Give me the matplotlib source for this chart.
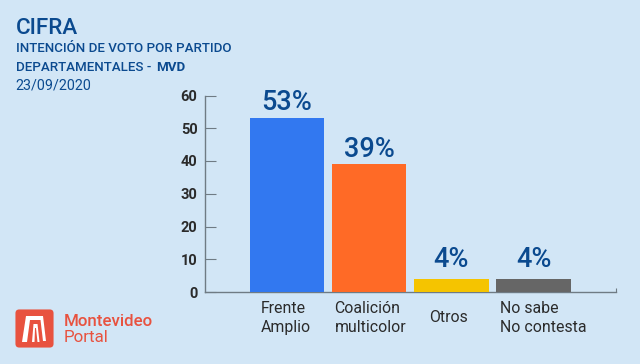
import matplotlib.pyplot as plt
from matplotlib.patches import FancyBboxPatch, Polygon

categories = ['Frente\nAmplio', 'Coalición\nmulticolor', 'Otros', 'No sabe\nNo contesta']
values = [53, 39, 4, 4]
value_labels = ['53%', '39%', '4%', '4%']
y_ticks = [0, 10, 20, 30, 40, 50, 60]

BG = '#d2e6f6'
BLUE = '#0b4a8f'
DARK = '#2b2b2b'
AXIS = '#6f7b84'
RED = '#e8523f'
bar_colors = ['#3278f0', '#ff6a26', '#f5c400', '#666666']
label_left_px = [260.5, 334.5, 429, 500]
label_gaps = [0.7, 0.4, 1.8, 1.8]

plt.rcParams['font.family'] = ['Roboto', 'DejaVu Sans']

W, H = 640, 364
fig = plt.figure(figsize=(6.4, 3.64), dpi=100, facecolor=BG)


def px(x, y):
    return x / W, 1 - y / H


ax = fig.add_axes([204.5 / W, 1 - 292 / H, (616 - 204.5) / W, (292 - 95.5) / H])
ax.set_facecolor('none')
ax.bar(range(len(values)), values, width=0.905, color=bar_colors, zorder=3)
ax.set_xlim(-1, 4)
ax.set_ylim(0, 60)

for spine in ['top', 'right']:
    ax.spines[spine].set_visible(False)
for spine in ['left', 'bottom']:
    ax.spines[spine].set_color(AXIS)
    ax.spines[spine].set_linewidth(1.0)

ax.set_yticks(y_ticks)
ax.tick_params(axis='y', direction='in', length=8, width=0.8, color=AXIS, pad=5,
               labelsize=10.5, labelcolor=DARK)
for t in ax.get_yticklabels():
    t.set_fontweight('bold')
ax.set_xticks([4])
ax.set_xticklabels([''])
ax.tick_params(axis='x', direction='in', length=3, width=0.8, color=AXIS)

for i, v in enumerate(values):
    ax.text(i, v + label_gaps[i], value_labels[i], ha='center', va='bottom', fontsize=19.5,
            color=BLUE, zorder=4, fontweight='medium')

for cat, left in zip(categories, label_left_px):
    x, _ = px(left, 0)
    y = 1 - 318 / H
    fig.text(x, y, cat, ha='left', va='center', fontsize=11.4, color=DARK, linespacing=1.3)

fig.text(*px(15.5, 28), 'CIFRA', fontsize=16.2, color=BLUE, va='center', fontweight='medium')
fig.text(*px(15.5, 49), 'INTENCIÓN DE VOTO POR PARTIDO', fontsize=9.6, color=BLUE, va='center', fontweight='medium')
fig.text(*px(15.5, 67.5), 'DEPARTAMENTALES -', fontsize=9.6, color=BLUE, va='center', fontweight='medium')
fig.text(*px(156, 67.5), 'MVD', fontsize=9.6, color=BLUE, va='center', fontweight='bold')
fig.text(*px(15.5, 86), '23/09/2020', fontsize=10.3, color=BLUE, va='center')

# logo
fig.add_artist(FancyBboxPatch(px(18, 345), 33 / W, 33 / H, boxstyle='round,pad=0.004,rounding_size=0.006',
                              mutation_aspect=W / H, facecolor=RED, edgecolor='none',
                              transform=fig.transFigure))
arch_l = [(22, 342), (26, 316), (43, 316), (46, 341), (43, 341), (40.5, 320), (30, 320), (27, 342)]
fig.add_artist(Polygon([px(*p) for p in arch_l], closed=True, facecolor='white', edgecolor='none',
                       transform=fig.transFigure))
arch_r = [(32, 342), (33.5, 324), (37.5, 324), (39.5, 342), (37.5, 342), (36, 328), (35, 328), (34.5, 342)]
fig.add_artist(Polygon([px(*p) for p in arch_r], closed=True, facecolor='white', edgecolor='none',
                       transform=fig.transFigure))
fig.text(*px(64, 321), 'Montevideo', fontsize=12.2, color=RED, va='center', fontweight='medium')
fig.text(*px(64, 337), 'Portal', fontsize=12.2, color=RED, va='center')

fig.savefig('out.png', dpi=100, facecolor=BG)
